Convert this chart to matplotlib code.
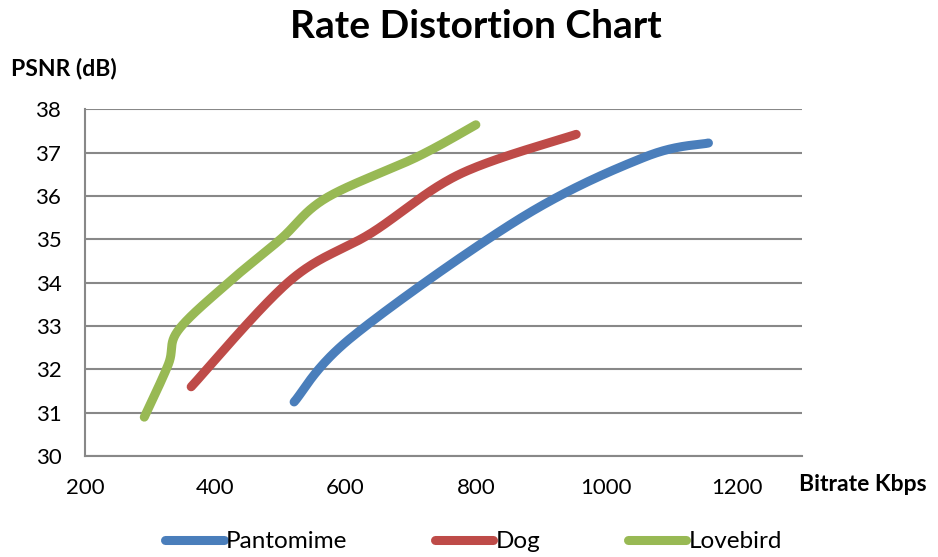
import numpy as np
import matplotlib
matplotlib.use("Agg")
import matplotlib.pyplot as plt

plt.rcParams['font.family'] = ['Lato', 'DejaVu Sans']

# bitrate (Kbps) and PSNR (dB) per sequence
pantomime_rate = [521, 610, 870, 1060, 1157]
pantomime_psnr = [31.25, 32.75, 35.5, 36.9, 37.22]

dog_rate = [363, 515, 640, 775, 954]
dog_psnr = [31.6, 34.05, 35.15, 36.5, 37.42]

lovebird_rate = [291, 328, 343, 420, 500, 570, 710, 800]
lovebird_psnr = [30.9, 32.12, 32.9, 34.0, 35.0, 35.95, 36.9, 37.64]

series_names = ['Pantomime', 'Dog', 'Lovebird']
colors = ['#4A7EBB', '#BE4B48', '#98B954']

x_ticks = [200, 400, 600, 800, 1000, 1200]
y_ticks = [30, 31, 32, 33, 34, 35, 36, 37, 38]


def smooth(xs, ys, xscale=717 / 1100, yscale=347 / 8, n=40):
    # Catmull-Rom style smoothing (like a spreadsheet "smoothed line"),
    # worked out in screen-proportional units
    p = np.column_stack([np.asarray(xs, float) * xscale, np.asarray(ys, float) * yscale])
    pts = np.vstack([p[0], p, p[-1]])
    out = []
    for i in range(1, len(pts) - 2):
        p0, p1, p2, p3 = pts[i - 1], pts[i], pts[i + 1], pts[i + 2]
        c1 = p1 + (p2 - p0) / 6.0
        c2 = p2 - (p3 - p1) / 6.0
        t = np.linspace(0, 1, n)[:, None]
        seg = ((1 - t) ** 3) * p1 + 3 * ((1 - t) ** 2) * t * c1 + 3 * (1 - t) * t ** 2 * c2 + t ** 3 * p2
        out.append(seg if i == 1 else seg[1:])
    out = np.vstack(out)
    return out[:, 0] / xscale, out[:, 1] / yscale


fig = plt.figure(figsize=(9.38, 5.57), dpi=100)
ax = fig.add_axes([0.0906, 0.181, 0.764, 0.623])

for xs, ys, name, c in zip([pantomime_rate, dog_rate, lovebird_rate],
                           [pantomime_psnr, dog_psnr, lovebird_psnr],
                           series_names, colors):
    sx, sy = smooth(xs, ys)
    ax.plot(sx, sy, color=c, lw=6.5, solid_capstyle='round', label=name, zorder=3)

ax.set_xlim(200, 1300)
ax.set_ylim(30, 38)
ax.set_xticks(x_ticks)
ax.set_yticks(y_ticks)
ax.tick_params(axis='both', length=0, labelsize=16)
ax.tick_params(axis='x', pad=16)
ax.tick_params(axis='y', pad=17)
ax.grid(axis='y', color='#888888', lw=1.5, zorder=1)
for side in ['top', 'right']:
    ax.spines[side].set_visible(False)
for side in ['left', 'bottom']:
    ax.spines[side].set_color('#888888')
    ax.spines[side].set_linewidth(1.5)

fig.text(0.507, 0.952, 'Rate Distortion Chart', ha='center', va='center',
         fontsize=28, fontweight='bold')
fig.text(0.012, 0.877, 'PSNR (dB)', ha='left', va='center', fontsize=16.5, fontweight='bold')
fig.text(0.852, 0.131, 'Bitrate Kbps', ha='left', va='center', fontsize=16.5, fontweight='bold')

fig.legend(loc='center', bbox_to_anchor=(0.505, 0.027), ncol=3, frameon=False,
           fontsize=17.5, handlelength=2.4, handletextpad=0.1, columnspacing=3.6)

fig.savefig('out.png', dpi=100)
